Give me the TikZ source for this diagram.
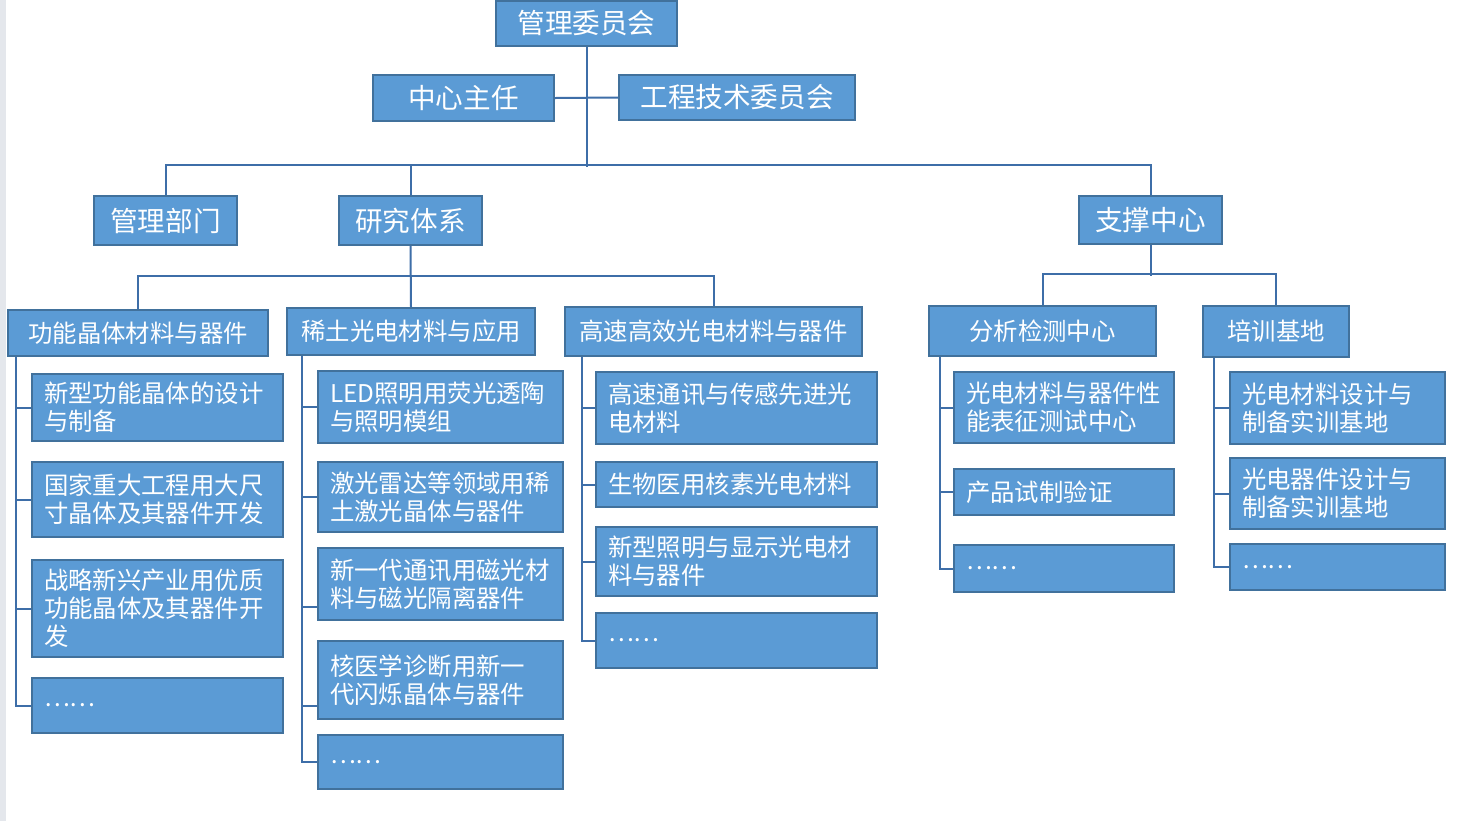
\documentclass[tikz,border=0pt]{standalone}
\usepackage{fontspec}
\usepackage{xcolor}
\usepackage{tikz}
\newfontfamily\cjk{Noto Sans CJK SC}
\definecolor{boxfill}{RGB}{91,155,213}
\definecolor{boxedge}{RGB}{65,113,156}
\definecolor{linkc}{RGB}{62,110,168}
\definecolor{framegray}{RGB}{228,231,236}
\tikzset{
	unit/.style={draw=boxedge, fill=boxfill, line width=1pt, text=white, inner sep=0pt,
			font=\cjk\fontsize{13.8}{16}\selectfont},
	group/.style={unit, font=\cjk\fontsize{12.2}{14}\selectfont},
	item/.style={group, align=left, inner xsep=6pt, text width=#1},
	link/.style={draw=linkc, line width=1pt}
}

\begin{document}
\begin{tikzpicture}[x=0.5pt, y=-0.5pt]
		\fill[white] (0,0) rectangle (1458,821);
		\useasboundingbox (0,0) rectangle (1458,821);
		\fill[framegray] (0,0) rectangle (6,821);

		\node[unit, minimum width=90.5pt, minimum height=22.5pt]	(board) at (586.5,23.5) {管理委员会};
		\node[unit, minimum width=90.5pt, minimum height=23pt]		(director) at (463.5,98) {中心主任};
		\node[unit, minimum width=118pt, minimum height=22.5pt]		(tech) at (737,97.5) {工程技术委员会};

		\node[unit, minimum width=71.5pt, minimum height=24.5pt]	(admin) at (165.5,220.5) {管理部门};
		\node[unit, minimum width=71.5pt, minimum height=24.5pt]	(research) at (410.5,220.5) {研究体系};
		\node[unit, minimum width=71.5pt, minimum height=24pt]		(support) at (1150.5,220) {支撑中心};

		\node[group, minimum width=130pt, minimum height=23pt]		(crystal) at (138,333) {功能晶体材料与器件};
		\node[group, minimum width=124pt, minimum height=23.5pt]	(rare) at (411,331.5) {稀土光电材料与应用};
		\node[group, minimum width=148.5pt, minimum height=24.5pt]	(fast) at (713.5,331.5) {高速高效光电材料与器件};
		\node[group, minimum width=113.5pt, minimum height=25pt]	(test) at (1042.5,331) {分析检测中心};
		\node[group, minimum width=73pt, minimum height=25.5pt]		(train) at (1276,331.5) {培训基地};

		\node[item=113.5pt, minimum height=33.5pt]	(crystal1) at (157.5,407.5) {新型功能晶体的设计\\与制备};
		\node[item=113.5pt, minimum height=37.5pt]	(crystal2) at (157.5,499.5) {国家重大工程用大尺\\寸晶体及其器件开发};
		\node[item=113.5pt, minimum height=48.5pt]	(crystal3) at (157.5,608.5) {战略新兴产业用优质\\功能晶体及其器件开\\发};
		\node[item=113.5pt, minimum height=27.5pt]	(crystal4) at (157.5,705.5) {……};

		\node[item=110.5pt, minimum height=36pt]	(rare1) at (440.5,407) {LED照明用荧光透陶\\与照明模组};
		\node[item=110.5pt, minimum height=35pt]	(rare2) at (440.5,497) {激光雷达等领域用稀\\土激光晶体与器件};
		\node[item=110.5pt, minimum height=36pt]	(rare3) at (440.5,584) {新一代通讯用磁光材\\料与磁光隔离器件};
		\node[item=110.5pt, minimum height=39pt]	(rare4) at (440.5,680) {核医学诊断用新一\\代闪烁晶体与器件};
		\node[item=110.5pt, minimum height=27pt]	(rare5) at (440.5,762) {……};

		\node[item=128.5pt, minimum height=36pt]	(fast1) at (736.5,408) {高速通讯与传感先进光\\电材料};
		\node[item=128.5pt, minimum height=22.5pt]	(fast2) at (736.5,484.5) {生物医用核素光电材料};
		\node[item=128.5pt, minimum height=34.5pt]	(fast3) at (736.5,561.5) {新型照明与显示光电材\\料与器件};
		\node[item=128.5pt, minimum height=27.5pt]	(fast4) at (736.5,640.5) {……};

		\node[item=98pt, minimum height=35.5pt]		(test1) at (1064,407.5) {光电材料与器件性\\能表征测试中心};
		\node[item=98pt, minimum height=23pt]		(test2) at (1064,492) {产品试制验证};
		\node[item=98pt, minimum height=23.5pt]		(test3) at (1064,568.5) {……};

		\node[item=95.5pt, minimum height=36pt]		(train1) at (1337.5,408) {光电材料设计与\\制备实训基地};
		\node[item=95.5pt, minimum height=35.5pt]	(train2) at (1337.5,493.5) {光电器件设计与\\制备实训基地};
		\node[item=95.5pt, minimum height=23pt]		(train3) at (1337.5,567) {……};

		\draw[link]	(board.south) -- ++(0,120);
		\draw[link]	(director.east) -- (tech.west);
		\draw[link]	(admin.north) -- ++(0,-30) -| (support.north);
		\draw[link]	(research.north) -- ++(0,-30);
		\draw[link]	(research.south) -- (rare.north);
		\draw[link]	(crystal.north) -- ++(0,-33) -| (fast.north);
		\draw[link]	(support.south) -- ++(0,31);
		\draw[link]	(test.north) -- ++(0,-31) -| (train.north);

		\coordinate (crystalS) at ([xshift=4.5pt]crystal.south west);
		\draw[link]	(crystalS) |- (crystal4.west);
		\foreach \i in {1, 2, 3} {
			\draw[link]	(crystalS |- crystal\i.west) -- (crystal\i.west);
		}

		\coordinate (rareS) at ([xshift=8pt]rare.south west);
		\draw[link]	(rareS) |- (rare5.west);
		\foreach \i in {1, 2} {
			\draw[link]	(rareS |- rare\i.west) -- (rare\i.west);
		}
		\foreach \i in {3, 4} {
			\coordinate (tick) at ([yshift=7pt]rare\i.south west);
			\draw[link]	(rareS |- tick) -- (tick);
		}

		\coordinate (fastS) at ([xshift=9pt]fast.south west);
		\draw[link]	(fastS) |- (fast4.west);
		\foreach \i in {1, 2, 3} {
			\draw[link]	(fastS |- fast\i.west) -- (fast\i.west);
		}

		\coordinate (testS) at ([xshift=6pt]test.south west);
		\draw[link]	(testS) |- (test3.west);
		\foreach \i in {1, 2} {
			\draw[link]	(testS |- test\i.west) -- (test\i.west);
		}

		\coordinate (trainS) at ([xshift=6pt]train.south west);
		\draw[link]	(trainS) |- (train3.west);
		\foreach \i in {1, 2} {
			\draw[link]	(trainS |- train\i.west) -- (train\i.west);
		}
	\end{tikzpicture}
\end{document}
